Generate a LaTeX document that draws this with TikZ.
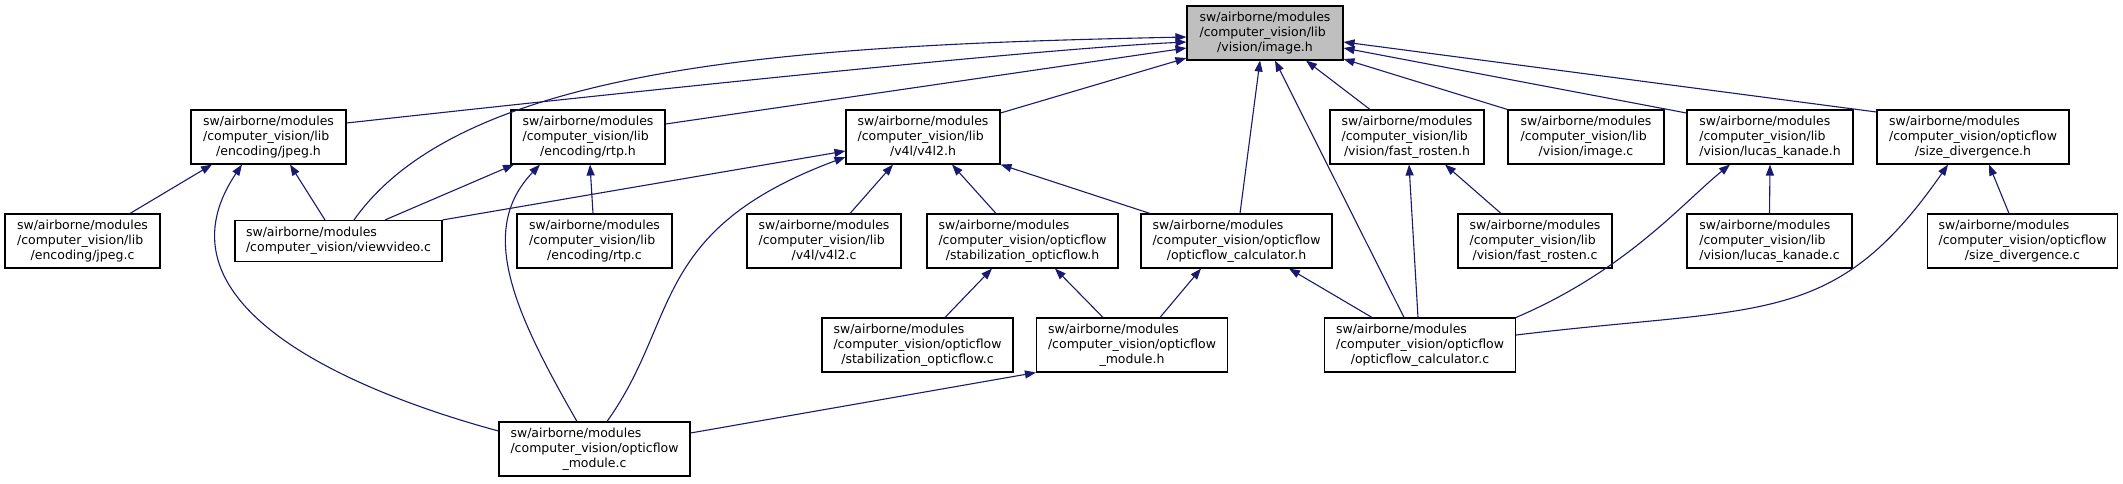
\documentclass[tikz,border=0pt]{standalone}
\usepackage{fontspec}
\newfontfamily\dxfont{DejaVu Sans}
\usetikzlibrary{arrows.meta}
\definecolor{edgeblue}{RGB}{25,25,112}
\definecolor{rootgray}{RGB}{191,191,191}
\newcommand{\dxlabel}[3]{\begin{tabular}{@{}l@{}}#1\\#2\\\multicolumn{1}{@{}c@{}}{#3}\end{tabular}}
\newcommand{\dxlabelii}[2]{\begin{tabular}{@{}l@{}}#1\\#2\end{tabular}}
\begin{document}
\begin{tikzpicture}[x=1pt,y=-1pt,
  >={Triangle[length=11pt,width=8pt]},
  box/.style={draw=black, line width=1.1pt, fill=white, inner sep=0pt, minimum height=54pt, font={\dxfont\fontsize{12.5}{15}\selectfont}},
  rootbox/.style={box, fill=rootgray},
  dep/.style={draw=edgeblue, line width=1.1pt, <-}]
\fill[white] (0,0) rectangle (2123,483);
\useasboundingbox (0,0) rectangle (2123,483);

% root
\node[rootbox, minimum width=156pt] (image) at (1265,33) {\dxlabel{sw/airborne/modules}{/computer\_vision/lib}{/vision/image.h}};

% row 1
\node[box, minimum width=155pt] (jpegh) at (268.5,137) {\dxlabel{sw/airborne/modules}{/computer\_vision/lib}{/encoding/jpeg.h}};
\node[box, minimum width=154pt] (rtph) at (588,137) {\dxlabel{sw/airborne/modules}{/computer\_vision/lib}{/encoding/rtp.h}};
\node[box, minimum width=154pt] (v4l2h) at (923,137) {\dxlabel{sw/airborne/modules}{/computer\_vision/lib}{/v4l/v4l2.h}};
\node[box, minimum width=154pt] (fasth) at (1407,137) {\dxlabel{sw/airborne/modules}{/computer\_vision/lib}{/vision/fast\_rosten.h}};
\node[box, minimum width=156pt] (imagec) at (1586,137) {\dxlabel{sw/airborne/modules}{/computer\_vision/lib}{/vision/image.c}};
\node[box, minimum width=166pt] (lkh) at (1770,137) {\dxlabel{sw/airborne/modules}{/computer\_vision/lib}{/vision/lucas\_kanade.h}};
\node[box, minimum width=192pt] (sdh) at (1973,137) {\dxlabel{sw/airborne/modules}{/computer\_vision/opticflow}{/size\_divergence.h}};

% row 2
\node[box, minimum width=155pt] (jpegc) at (82.5,241) {\dxlabel{sw/airborne/modules}{/computer\_vision/lib}{/encoding/jpeg.c}};
\node[box, minimum width=207pt, minimum height=41pt] (viewvideo) at (338.5,241) {\dxlabelii{sw/airborne/modules}{/computer\_vision/viewvideo.c}};
\node[box, minimum width=155pt] (rtpc) at (594.5,241) {\dxlabel{sw/airborne/modules}{/computer\_vision/lib}{/encoding/rtp.c}};
\node[box, minimum width=154pt] (v4l2c) at (824,241) {\dxlabel{sw/airborne/modules}{/computer\_vision/lib}{/v4l/v4l2.c}};
\node[box, minimum width=191pt] (stabh) at (1022.5,241) {\dxlabel{sw/airborne/modules}{/computer\_vision/opticflow}{/stabilization\_opticflow.h}};
\node[box, minimum width=191pt] (ofch) at (1236.5,241) {\dxlabel{sw/airborne/modules}{/computer\_vision/opticflow}{/opticflow\_calculator.h}};
\node[box, minimum width=154pt] (fastc) at (1535,241) {\dxlabel{sw/airborne/modules}{/computer\_vision/lib}{/vision/fast\_rosten.c}};
\node[box, minimum width=165pt] (lkc) at (1769.5,241) {\dxlabel{sw/airborne/modules}{/computer\_vision/lib}{/vision/lucas\_kanade.c}};
\node[box, minimum width=190pt] (sdc) at (2022.5,241) {\dxlabel{sw/airborne/modules}{/computer\_vision/opticflow}{/size\_divergence.c}};

% row 3
\node[box, minimum width=191pt] (stabc) at (917.5,345) {\dxlabel{sw/airborne/modules}{/computer\_vision/opticflow}{/stabilization\_opticflow.c}};
\node[box, minimum width=191pt] (ofmh) at (1132,345) {\dxlabel{sw/airborne/modules}{/computer\_vision/opticflow}{\_module.h}};
\node[box, minimum width=191pt] (ofcc) at (1420,345) {\dxlabel{sw/airborne/modules}{/computer\_vision/opticflow}{/opticflow\_calculator.c}};

% row 4
\node[box, minimum width=191pt] (ofmc) at (594.5,449) {\dxlabel{sw/airborne/modules}{/computer\_vision/opticflow}{\_module.c}};

% edges into image.h
\draw[dep] ([yshift=-4pt]image.west) .. controls +(-387,8) and +(110,-156) .. ([xshift=15.5pt]viewvideo.north);
\draw[dep] ([yshift=-9pt]image.west) .. controls +(-150,7) and +(300,-33) .. ([yshift=14pt]jpegh.east);
\draw[dep] ([yshift=-15pt]image.west) -- ([yshift=13pt]rtph.east);
\draw[dep] ([yshift=-25pt]image.west) -- ([yshift=24pt]v4l2h.east);
\draw[dep] ([xshift=-5pt]image.south) -- ([xshift=3.5pt]ofch.north);
\draw[dep] ([xshift=10pt]image.south) -- ([xshift=-16pt]ofcc.north);
\draw[dep] ([xshift=41pt]image.south) -- ([xshift=-37pt]fasth.north);
\draw[dep] ([yshift=-26pt]image.east) -- (imagec.north west);
\draw[dep] ([yshift=-15pt]image.east) -- ([yshift=24pt]lkh.west);
\draw[dep] ([yshift=-9pt]image.east) -- ([yshift=25pt]sdh.west);

% jpeg.h
\draw[dep] ([xshift=-56.5pt]jpegh.south) -- ([xshift=47.5pt]jpegc.north);
\draw[dep] ([xshift=21.5pt]jpegh.south) -- ([xshift=-13.5pt]viewvideo.north);
\draw[dep] ([xshift=-26.5pt]jpegh.south) .. controls +(-95,141) and +(-144,-39) .. ([yshift=18pt]ofmc.west);

% rtp.h
\draw[dep] ([xshift=-74pt]rtph.south) -- ([xshift=46.5pt]viewvideo.north);
\draw[dep] ([xshift=-48pt]rtph.south) .. controls +(-62,65) and +(-65,-113) .. ([xshift=-17.5pt]ofmc.north);
\draw[dep] ([xshift=2pt]rtph.south) -- ([xshift=-1.5pt]rtpc.north);

% v4l2.h
\draw[dep] ([yshift=-14pt]v4l2h.west) -- (viewvideo.north east);
\draw[dep] ([yshift=-20pt]v4l2h.west) .. controls +(-196,73) and +(73,-102) .. ([xshift=12.5pt]ofmc.north);
\draw[dep] ([xshift=-30pt]v4l2h.south) -- ([xshift=26pt]v4l2c.north);
\draw[dep] ([xshift=29pt]v4l2h.south) -- ([xshift=-26.5pt]stabh.north);
\draw[dep] (v4l2h.south east) -- ([xshift=-86.5pt]ofch.north);

% stabilization_opticflow.h
\draw[dep] ([xshift=-30.5pt]stabh.south) -- ([xshift=27.5pt]stabc.north);
\draw[dep] ([xshift=32.5pt]stabh.south) -- ([xshift=-29pt]ofmh.north);

% opticflow_calculator.h
\draw[dep] ([xshift=-35.5pt]ofch.south) -- ([xshift=28pt]ofmh.north);
\draw[dep] ([xshift=52.5pt]ofch.south) -- ([xshift=-48pt]ofcc.north);

% opticflow_module.h
\draw[dep] (ofmh.south west) -- ([yshift=16pt]ofmc.east);

% fast_rosten.h
\draw[dep] ([xshift=2pt]fasth.south) -- ([xshift=-2pt]ofcc.north);
\draw[dep] ([xshift=38pt]fasth.south) -- ([xshift=-34pt]fastc.north);

% lucas_kanade.h
\draw[dep] ([xshift=-40pt]lkh.south) .. controls +(-47,38) and +(110,-47) .. (ofcc.north east);
\draw[dep] (lkh.south) -- (lkc.north);

% size_divergence.h
\draw[dep] ([xshift=-25pt]sdh.south) .. controls +(-114,164) and +(248,-30) .. ([yshift=10pt]ofcc.east);
\draw[dep] ([xshift=16pt]sdh.south) -- ([xshift=-13.5pt]sdc.north);
\end{tikzpicture}
\end{document}
